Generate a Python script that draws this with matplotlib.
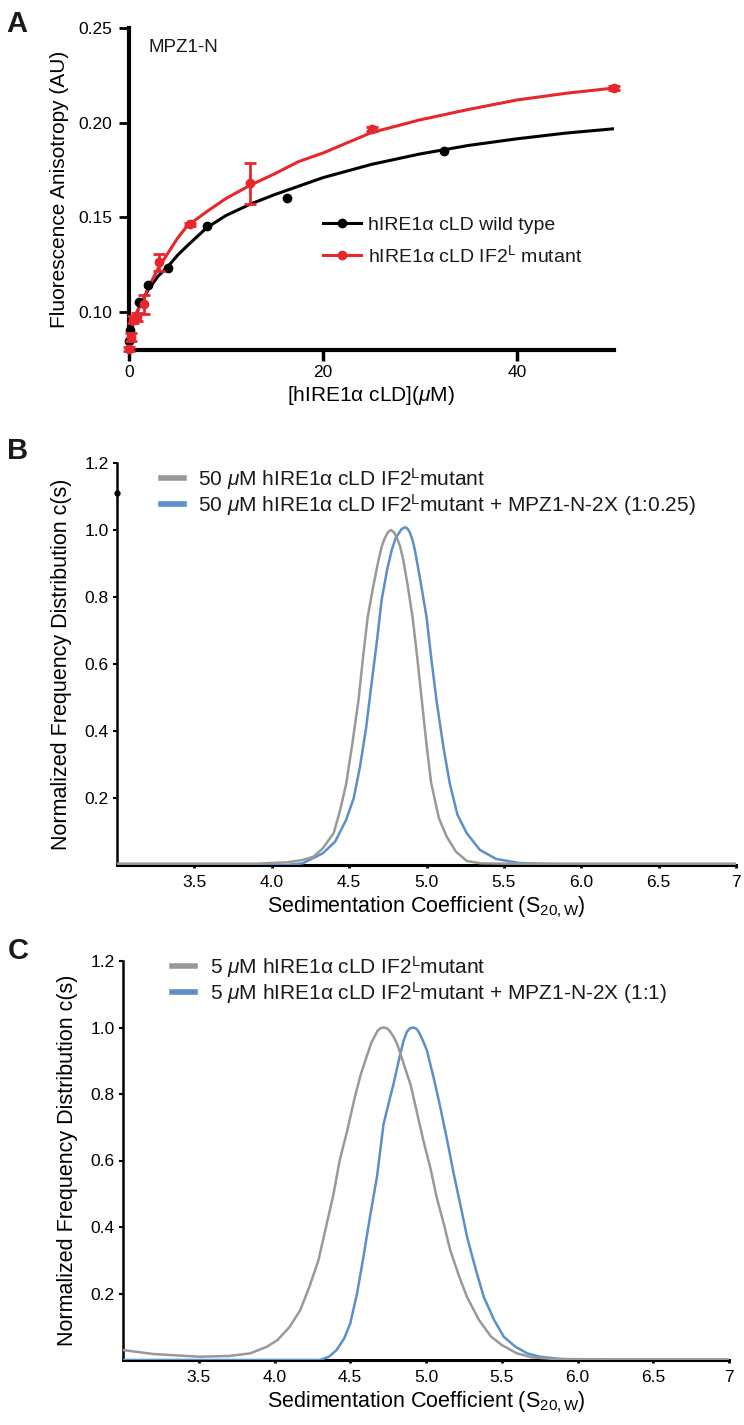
import matplotlib

matplotlib.use("Agg")

import matplotlib.pyplot as plt  # noqa: E402
from matplotlib.lines import Line2D  # noqa: E402

W, H = 744, 1425

plt.rcParams["font.family"] = ["Liberation Sans", "DejaVu Sans"]
plt.rcParams["mathtext.fontset"] = "custom"
plt.rcParams["mathtext.rm"] = "Liberation Sans"
plt.rcParams["mathtext.it"] = "Liberation Sans:italic"
plt.rcParams["text.color"] = "#1a1a1a"

RED = "#E8262B"
GRAY = "#999999"
BLUE = "#5B8FCA"

# ---- Panel A: fluorescence anisotropy titration ----
wt_conc = [0.0, 0.1, 1.0, 2.0, 4.0, 8.0, 16.25, 32.5]
wt_aniso = [0.0847, 0.0905, 0.1051, 0.1142, 0.1235, 0.1454, 0.160, 0.185]

mut_conc = [0.0, 0.2, 0.39, 0.78, 1.56, 3.125, 6.25, 12.5, 25.0, 50.0]
mut_aniso = [0.0805, 0.0868, 0.0960, 0.0974, 0.1042, 0.1262, 0.1463, 0.168, 0.1967, 0.2183]
mut_err = [0.001, 0.002, 0.002, 0.002, 0.005, 0.0045, 0.001, 0.0107, 0.001, 0.001]

wt_fit_x = [0, 0.25, 0.5, 1, 1.5, 2, 3, 4, 5, 6, 8, 10, 12.5, 15, 17.5, 20, 25, 30, 35, 40, 45, 50]
wt_fit = [0.083, 0.090, 0.095, 0.102, 0.107, 0.112, 0.119, 0.124, 0.130, 0.135, 0.1445, 0.151,
          0.157, 0.162, 0.1665, 0.171, 0.178, 0.1835, 0.188, 0.1915, 0.1945, 0.1968]
mut_fit_x = [0, 0.25, 0.5, 1, 1.5, 2, 3, 4, 5, 6, 8, 10, 12.5, 15, 17.5, 20, 25, 30, 35, 40, 45, 50]
mut_fit = [0.081, 0.091, 0.097, 0.102, 0.107, 0.113, 0.123, 0.131, 0.139, 0.1455, 0.153, 0.160,
           0.167, 0.173, 0.1795, 0.184, 0.1948, 0.2015, 0.207, 0.212, 0.2155, 0.2183]

# ---- Panel B: c(s) at 50 uM ----
b_gray_s = [3.0, 3.9, 4.1, 4.2, 4.27, 4.33, 4.40, 4.44, 4.48, 4.52, 4.56, 4.59, 4.62, 4.655,
            4.69, 4.71, 4.73, 4.75, 4.77, 4.79, 4.81, 4.83, 4.85, 4.88, 4.91, 4.94, 4.97,
            5.0, 5.03, 5.08, 5.13, 5.19, 5.26, 5.35, 5.5, 7.0]
b_gray_c = [0.004, 0.004, 0.008, 0.015, 0.025, 0.05, 0.095, 0.16, 0.24, 0.36, 0.49, 0.62, 0.74,
            0.83, 0.91, 0.95, 0.975, 0.993, 1.0, 0.993, 0.975, 0.95, 0.91, 0.83, 0.74, 0.62,
            0.49, 0.36, 0.245, 0.14, 0.085, 0.04, 0.012, 0.005, 0.004, 0.004]
b_blue_s = [3.0, 4.1, 4.2, 4.33, 4.41, 4.48, 4.53, 4.57, 4.61, 4.645, 4.68, 4.71, 4.745,
            4.775, 4.80, 4.82, 4.84, 4.86, 4.875, 4.89, 4.91, 4.925, 4.96, 5.0, 5.03, 5.065,
            5.11, 5.15, 5.2, 5.26, 5.345, 5.45, 5.6, 5.85, 7.0]
b_blue_c = [0.0, 0.0, 0.005, 0.035, 0.07, 0.134, 0.2, 0.293, 0.41, 0.542, 0.67, 0.791, 0.88,
            0.94, 0.975, 0.99, 1.003, 1.008, 1.005, 0.995, 0.97, 0.94, 0.85, 0.741, 0.62, 0.49,
            0.35, 0.244, 0.15, 0.095, 0.045, 0.018, 0.006, 0.002, 0.0]

# ---- Panel C: c(s) at 5 uM ----
c_gray_s = [3.0, 3.2, 3.5, 3.7, 3.84, 3.95, 4.02, 4.1, 4.17, 4.23, 4.29, 4.34, 4.39, 4.43,
            4.48, 4.53, 4.57, 4.61, 4.64, 4.68, 4.70, 4.72, 4.74, 4.76, 4.785, 4.81, 4.85,
            4.9, 4.94, 4.98, 5.03, 5.07, 5.12, 5.16, 5.22, 5.27, 5.35, 5.43, 5.5, 5.6, 5.7,
            5.85, 6.2, 7.0]
c_gray_c = [0.03, 0.018, 0.01, 0.012, 0.02, 0.04, 0.06, 0.1, 0.15, 0.22, 0.3, 0.4, 0.5, 0.6,
            0.69, 0.79, 0.86, 0.915, 0.955, 0.99, 0.998, 1.0, 0.998, 0.99, 0.973, 0.95, 0.895,
            0.825, 0.745, 0.665, 0.575, 0.49, 0.405, 0.33, 0.25, 0.19, 0.12, 0.07, 0.045, 0.02,
            0.008, 0.003, 0.002, 0.002]
c_blue_s = [3.0, 4.3, 4.36, 4.41, 4.46, 4.5, 4.545, 4.587, 4.63, 4.676, 4.72, 4.755, 4.786,
            4.82, 4.852, 4.875, 4.895, 4.918, 4.94, 4.96, 4.98, 5.006, 5.05, 5.094, 5.14,
            5.183, 5.23, 5.271, 5.33, 5.381, 5.45, 5.513, 5.59, 5.668, 5.75, 5.888, 6.1, 7.0]
c_blue_c = [0.0, 0.0, 0.01, 0.03, 0.065, 0.11, 0.2, 0.31, 0.43, 0.55, 0.71, 0.775, 0.831,
            0.9, 0.961, 0.988, 0.998, 1.0, 0.995, 0.98, 0.96, 0.931, 0.85, 0.761, 0.66,
            0.56, 0.46, 0.37, 0.27, 0.19, 0.12, 0.07, 0.04, 0.02, 0.01, 0.003, 0.0, 0.0]

s_ticks = [3.5, 4.0, 4.5, 5.0, 5.5, 6.0, 6.5, 7.0]
s_ticklabels = ["3.5", "4.0", "4.5", "5.0", "5.5", "6.0", "6.5", "7"]
cs_ticks = [0.2, 0.4, 0.6, 0.8, 1.0, 1.2]
cs_ticklabels = ["0.2", "0.4", "0.6", "0.8", "1.0", "1.2"]


def px_axes(fig, left, right, top, bottom):
    return fig.add_axes([left / W, 1 - bottom / H, (right - left) / W, (bottom - top) / H])


def px_anchor(x, y):
    return (x / W, 1 - y / H)


fig = plt.figure(figsize=(W / 100, H / 100), dpi=100)

# Panel A
ax = px_axes(fig, 129, 614, 28, 350)
ax.plot(wt_fit_x, wt_fit, color="black", lw=2.2, zorder=3)
ax.plot(mut_fit_x, mut_fit, color=RED, lw=2.2, zorder=4)
ax.plot(wt_conc, wt_aniso, "o", color="black", ms=6, clip_on=False, zorder=5)
ax.errorbar(mut_conc, mut_aniso, yerr=mut_err, fmt="o", color=RED, ms=6, elinewidth=2,
            capsize=4, capthick=2, clip_on=False, zorder=6)
ax.set_xlim(0, 50)
ax.set_ylim(0.08, 0.25)
ax.set_xticks([0, 20, 40])
ax.set_yticks([0.10, 0.15, 0.20, 0.25])
ax.set_yticklabels(["0.10", "0.15", "0.20", "0.25"])
for side in ("top", "right"):
    ax.spines[side].set_visible(False)
for side in ("left", "bottom"):
    ax.spines[side].set_linewidth(3)
ax.tick_params(axis="x", length=8, width=2.5, labelsize=12.5, pad=3)
ax.tick_params(axis="y", length=7, width=2, labelsize=12.5, pad=5)
ax.set_xlabel("[hIRE1α cLD]($\\mu$M)", fontsize=15, labelpad=3)
ax.set_ylabel("Fluorescence Anisotropy (AU)", fontsize=15, labelpad=7)
fig.text(148 / W, 1 - 48 / H, "MPZ1-N", fontsize=13.5, ha="left", va="center")
handles_a = [
    Line2D([], [], color="black", lw=2.2, marker="o", ms=6),
    Line2D([], [], color=RED, lw=2.2, marker="o", ms=6),
]
ax.legend(handles_a, ["hIRE1α cLD wild type", "hIRE1α cLD IF2$^{\\mathrm{L}}$ mutant"],
          loc="upper left", bbox_to_anchor=px_anchor(323, 216), bbox_transform=fig.transFigure,
          frameon=False, fontsize=14, handlelength=1.95, handletextpad=0.35,
          borderpad=0, borderaxespad=0, labelspacing=0.55)


def sed_panel(ax, gray_s, gray_c, blue_s, blue_c, labels, leg_x, leg_y):
    ax.plot(blue_s, blue_c, color=BLUE, lw=1.8, zorder=3)
    ax.plot(gray_s, gray_c, color=GRAY, lw=1.8, zorder=4)
    ax.set_xlim(3.0, 7.0)
    ax.set_ylim(0, 1.2)
    ax.set_xticks(s_ticks)
    ax.set_xticklabels(s_ticklabels)
    ax.set_yticks(cs_ticks)
    ax.set_yticklabels(cs_ticklabels)
    for side in ("top", "right"):
        ax.spines[side].set_visible(False)
    ax.spines["left"].set_linewidth(1.8)
    ax.spines["bottom"].set_linewidth(2.2)
    ax.tick_params(axis="x", length=2.5, width=2, labelsize=12.5, pad=5)
    ax.tick_params(axis="y", length=3, width=1.5, labelsize=12.5, pad=3)
    ax.set_xlabel("Sedimentation Coefficient (S$_{\\mathrm{20,W}}$)", fontsize=15.5, labelpad=3)
    ax.set_ylabel("Normalized Frequency Distribution c(s)", fontsize=15.5, labelpad=9)
    handles = [Line2D([], [], color=GRAY, lw=4), Line2D([], [], color=BLUE, lw=4)]
    ax.legend(handles, labels, loc="upper left", bbox_to_anchor=px_anchor(leg_x, leg_y),
              bbox_transform=fig.transFigure, frameon=False, fontsize=15,
              handlelength=1.1, handletextpad=0.7, borderpad=0, borderaxespad=0,
              labelspacing=0.0)


# Panel B
axb = px_axes(fig, 117, 736, 463, 865)
sed_panel(axb, b_gray_s, b_gray_c, b_blue_s, b_blue_c,
          ["50 $\\mu$M hIRE1α cLD IF2$^{\\mathrm{L}}$mutant",
           "50 $\\mu$M hIRE1α cLD IF2$^{\\mathrm{L}}$mutant + MPZ1-N-2X (1:0.25)"],
          161, 466)
axb.plot([3.0], [1.11], marker="o", ms=3.5, color="black", clip_on=False, zorder=6)

# Panel C
axc = px_axes(fig, 123, 729, 961, 1360)
sed_panel(axc, c_gray_s, c_gray_c, c_blue_s, c_blue_c,
          ["5 $\\mu$M hIRE1α cLD IF2$^{\\mathrm{L}}$mutant",
           "5 $\\mu$M hIRE1α cLD IF2$^{\\mathrm{L}}$mutant + MPZ1-N-2X (1:1)"],
          172, 954)

for letter, (x, y) in zip("ABC", [(17, 24), (18, 451), (18, 951)]):
    fig.text(x / W, 1 - y / H, letter, fontsize=21, fontweight="bold", ha="center", va="center")

fig.savefig("out.png", dpi=100)
